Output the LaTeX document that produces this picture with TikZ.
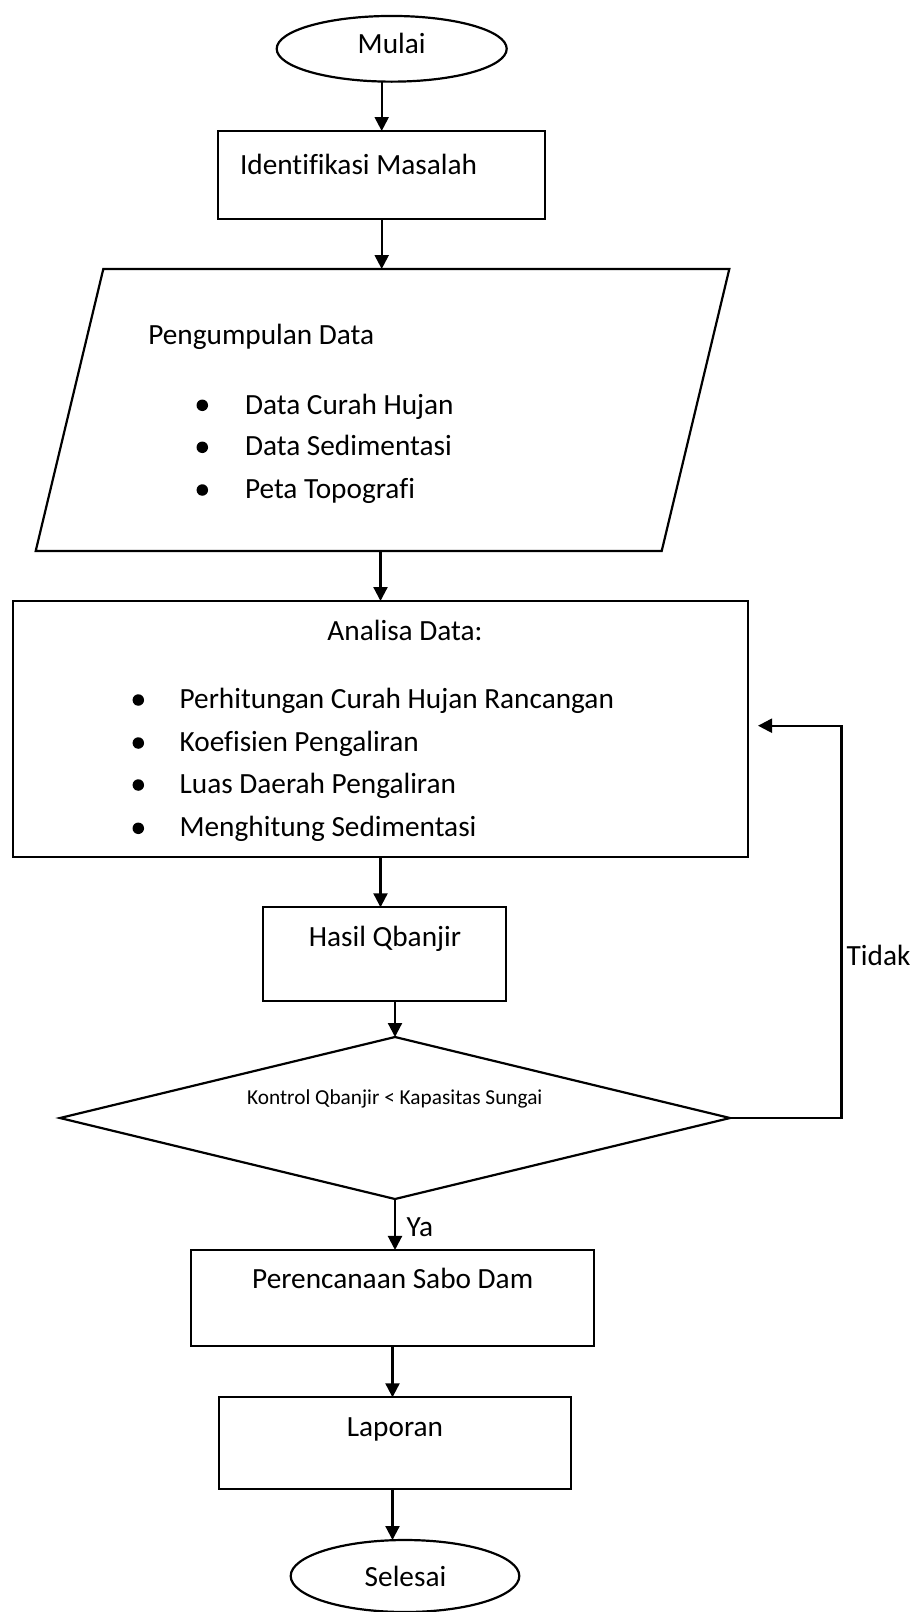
\documentclass[tikz,border=0pt]{standalone}
\usepackage{fontspec}
\setmainfont{Carlito}[Ligatures=NoCommon]
\usetikzlibrary{shapes.geometric,arrows.meta}
\newcommand\fsbig{\fontsize{29.3}{35}\selectfont}
\newcommand\fssmall{\fontsize{21.3}{26}\selectfont}
\tikzset{
  box/.style={draw, rectangle, inner sep=0pt, outer sep=0pt, line width=2.2pt},
  term/.style={draw, ellipse, inner sep=0pt, outer sep=0pt, line width=2.2pt},
  txt/.style={inner sep=0pt, outer sep=0pt, font=\fsbig},
  stxt/.style={inner sep=0pt, outer sep=0pt, font=\fssmall},
  bul/.style={circle, fill=black, inner sep=0pt, minimum size=11.5pt},
  arr/.style={line width=2.2pt, -{Triangle[length=14pt,width=14pt]}},
  conn/.style={line width=2.2pt},
}
\begin{document}
\begin{tikzpicture}[x=1pt,y=-1pt]
\useasboundingbox (0,0) rectangle (920,1612);
% shapes
\node[term, minimum width=230pt, minimum height=65.7pt] (mulai) at (391.7,48.8) {};
\node[box, minimum width=326.7pt, minimum height=88pt] (ident) at (381.7,175) {};
\node[inner sep=0pt, outer sep=0pt, minimum width=626pt, minimum height=282pt] (para) at (382.5,410) {};
\draw[conn, line join=miter] ([xshift=33.8pt]para.north west) -- ([xshift=33.8pt]para.north east)
  -- ([xshift=-33.8pt]para.south east) -- ([xshift=-33.8pt]para.south west) -- cycle;
\node[box, minimum width=735pt, minimum height=256pt] (ana) at (380.5,729) {};
\node[box, minimum width=242.4pt, minimum height=94pt] (hasil) at (384.5,954.3) {};
\node[draw, diamond, inner sep=0pt, outer sep=0pt, line width=2.2pt, minimum width=670pt, minimum height=162pt] (dia) at (395,1118) {};
\node[box, minimum width=403pt, minimum height=95.7pt] (per) at (392.5,1297.8) {};
\node[box, minimum width=352.3pt, minimum height=92pt] (lap) at (394.8,1443.3) {};
\node[term, minimum width=228.6pt, minimum height=72pt] (sel) at (405,1576) {};
% texts
\node[txt, anchor=base] (tmulai) at (391.7,53.5) {Mulai};
\node[txt, anchor=base west] (tident) at (240,174.5) {Identifikasi Masalah};
\node[txt, anchor=base west] (tpeng) at (148.3,344) {Pengumpulan Data};
\node[bul] (pb1) at (202.3,405.3) {};
\node[bul] (pb2) at (202.3,447.3) {};
\node[bul] (pb3) at (202.3,490) {};
\node[txt, anchor=base west] (tp1) at (245,414) {Data Curah Hujan};
\node[txt, anchor=base west] (tp2) at (245,455.8) {Data Sedimentasi};
\node[txt, anchor=base west] (tp3) at (245,498.4) {Peta Topografi};
\node[txt, anchor=base] (tana) at (405,640) {Analisa Data:};
\node[bul] (ab1) at (138.3,700) {};
\node[bul] (ab2) at (138.3,743) {};
\node[bul] (ab3) at (138.3,785) {};
\node[bul] (ab4) at (138.3,828.3) {};
\node[txt, anchor=base west] (ta1) at (179.6,708.5) {Perhitungan Curah Hujan Rancangan};
\node[txt, anchor=base west] (ta2) at (179.6,751.5) {Koefisien Pengaliran};
\node[txt, anchor=base west] (ta3) at (179.6,793.5) {Luas Daerah Pengaliran};
\node[txt, anchor=base west] (ta4) at (179.6,836.7) {Menghitung Sedimentasi};
\node[txt, anchor=base] (thasil) at (385,946.5) {Hasil Qbanjir};
\node[stxt, anchor=base] (tdia) at (394.8,1104) {Kontrol Qbanjir < Kapasitas Sungai};
\node[txt, anchor=base west] (ttidak) at (846.7,965) {Tidak};
\node[txt, anchor=base west] (tya) at (406.7,1236.7) {Ya};
\node[txt, anchor=base] (tper) at (392.7,1288.3) {Perencanaan Sabo Dam};
\node[txt, anchor=base] (tlap) at (395,1436) {Laporan};
\node[txt, anchor=base] (tsel) at (405.5,1586.7) {Selesai};
% connectors
\draw[arr] (ident.north |- mulai.south) -- (ident.north);
\draw[arr] (ident.south) -- (ident.south |- para.north);
\draw[arr] (ana.north |- para.south) -- (ana.north);
\draw[arr] (ana.south) -- (ana.south |- hasil.north);
\draw[arr] (dia.north |- hasil.south) -- (dia.north);
\draw[arr] (dia.south) -- (dia.south |- per.north);
\draw[arr] (per.south) -- (per.south |- lap.north);
\draw[arr] (per.south |- lap.south) -- (per.south |- sel.north);
\coordinate (fbx) at (841.5,0);
\coordinate (fbtip) at (758,725.7);
\draw[arr] (dia.east) -- (dia.east -| fbx) -- (fbtip -| fbx) -- (fbtip);
\end{tikzpicture}
\end{document}
